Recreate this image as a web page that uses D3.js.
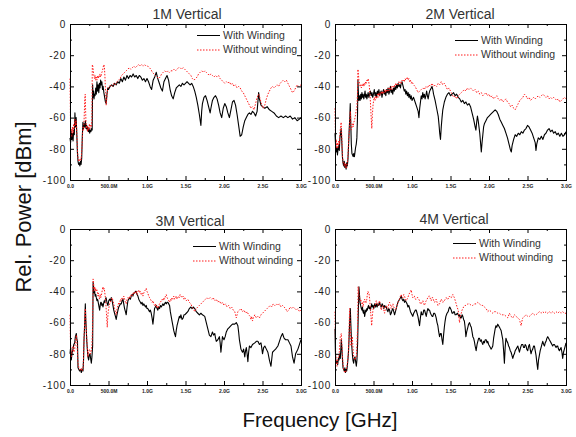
<!DOCTYPE html>
<html>
<head>
<meta charset="utf-8">
<script src="https://cdn.jsdelivr.net/npm/d3@7"></script>
<style>
  body { margin: 0; background: #fff; }
  svg { display: block; font-family: "Liberation Sans", Arial, sans-serif; }
</style>
</head>
<body>
<svg id="chart" width="576" height="437"></svg>
<script>
// axis ticks and labels
const freqTicks = [0, 0.5, 1, 1.5, 2, 2.5, 3];
const freqTickLabels = ['0.0', '500.0M', '1.0G', '1.5G', '2.0G', '2.5G', '3.0G'];
const freqMinorTicks = [0.25, 0.75, 1.25, 1.75, 2.25, 2.75];
const powerTicks = [0, -20, -40, -60, -80, -100];
const powerMinorTicks = [-10, -30, -50, -70, -90];
const titles = ['1M Vertical', '2M Vertical', '3M Vertical', '4M Vertical'];
const seriesNames = ['With Winding', 'Without winding'];

// [frequency GHz, relative power dBm]
const withWinding1M = [[0,-73],[0.008,-76],[0.016,-69],[0.024,-74],[0.032,-70],[0.04,-75],[0.048,-68],[0.056,-71],[0.064,-57],[0.072,-66],[0.08,-60],[0.088,-70],[0.096,-82],[0.104,-88],[0.112,-90],[0.12,-89],[0.128,-91],[0.136,-88],[0.144,-90],[0.152,-86],[0.16,-72],[0.168,-63],[0.176,-67],[0.184,-64],[0.192,-66],[0.2,-62],[0.208,-67],[0.216,-65],[0.224,-68],[0.232,-66],[0.24,-69],[0.248,-67],[0.256,-70],[0.264,-68],[0.272,-69],[0.28,-67],[0.288,-68],[0.294,-39],[0.3,-47],[0.306,-43],[0.312,-48],[0.318,-45],[0.326,-46],[0.334,-41],[0.342,-45],[0.35,-37],[0.358,-43],[0.366,-39],[0.374,-44],[0.382,-38],[0.39,-41],[0.398,-36],[0.406,-39],[0.414,-37],[0.422,-42],[0.43,-40],[0.44,-44],[0.45,-47],[0.46,-50],[0.47,-51],[0.48,-45],[0.49,-41],[0.5,-42],[0.52,-40],[0.54,-39],[0.56,-40],[0.58,-38],[0.6,-39],[0.62,-37],[0.64,-38],[0.66,-35],[0.68,-37],[0.7,-34],[0.72,-36],[0.74,-33],[0.76,-35],[0.78,-33],[0.8,-34],[0.82,-32],[0.84,-34],[0.86,-33],[0.88,-35],[0.9,-33],[0.92,-34],[0.94,-36],[0.96,-35],[0.98,-37],[1,-35],[1.02,-37],[1.04,-40],[1.06,-42],[1.08,-36],[1.1,-34],[1.12,-31],[1.14,-35],[1.16,-38],[1.18,-41],[1.2,-43],[1.22,-37],[1.24,-35],[1.26,-33],[1.28,-36],[1.3,-42],[1.32,-46],[1.34,-48],[1.36,-44],[1.38,-41],[1.4,-40],[1.42,-39],[1.44,-40],[1.46,-38],[1.48,-39],[1.5,-38],[1.52,-37],[1.54,-38],[1.56,-39],[1.58,-38],[1.6,-40],[1.62,-43],[1.64,-47],[1.66,-52],[1.68,-58],[1.7,-65],[1.71,-56],[1.72,-51],[1.74,-47],[1.76,-46],[1.78,-49],[1.8,-53],[1.82,-57],[1.83,-54],[1.85,-49],[1.87,-47],[1.89,-46],[1.91,-48],[1.93,-52],[1.95,-57],[1.97,-60],[1.99,-54],[2.01,-51],[2.03,-53],[2.05,-57],[2.07,-60],[2.09,-55],[2.11,-50],[2.13,-49],[2.15,-52],[2.17,-58],[2.19,-65],[2.21,-72],[2.23,-71],[2.25,-66],[2.27,-62],[2.29,-60],[2.31,-58],[2.33,-57],[2.35,-58],[2.37,-56],[2.39,-57],[2.41,-59],[2.43,-56],[2.44,-50],[2.45,-44],[2.46,-48],[2.48,-52],[2.5,-53],[2.53,-54],[2.56,-53],[2.59,-55],[2.62,-56],[2.65,-57],[2.68,-59],[2.71,-60],[2.74,-59],[2.77,-60],[2.8,-59],[2.83,-60],[2.86,-59],[2.89,-61],[2.92,-60],[2.95,-62],[2.98,-61],[3,-60]];

const withoutWinding1M = [[0,-35],[0.004,-52],[0.008,-70],[0.016,-67],[0.024,-72],[0.032,-66],[0.04,-70],[0.048,-64],[0.056,-67],[0.064,-61],[0.072,-65],[0.08,-62],[0.088,-69],[0.096,-80],[0.104,-86],[0.112,-88],[0.12,-87],[0.128,-88],[0.136,-86],[0.144,-87],[0.152,-82],[0.16,-74],[0.168,-66],[0.176,-68],[0.184,-60],[0.192,-48],[0.198,-45],[0.204,-58],[0.212,-67],[0.22,-65],[0.228,-69],[0.236,-66],[0.244,-68],[0.252,-64],[0.26,-67],[0.268,-65],[0.276,-66],[0.284,-62],[0.29,-26],[0.296,-27],[0.302,-30],[0.31,-33],[0.318,-35],[0.326,-33],[0.334,-36],[0.342,-34],[0.35,-36],[0.358,-33],[0.366,-35],[0.374,-33],[0.382,-34],[0.39,-32],[0.398,-34],[0.406,-33],[0.414,-31],[0.422,-30],[0.43,-28],[0.438,-26],[0.446,-27],[0.454,-34],[0.462,-44],[0.47,-52],[0.478,-47],[0.486,-43],[0.494,-41],[0.51,-40],[0.53,-39],[0.55,-40],[0.57,-38],[0.59,-39],[0.61,-37],[0.63,-36],[0.65,-35],[0.67,-33],[0.69,-32],[0.71,-31],[0.73,-30],[0.75,-29],[0.77,-28],[0.79,-29],[0.81,-28],[0.83,-27],[0.85,-28],[0.87,-27],[0.89,-26],[0.91,-27],[0.93,-26],[0.95,-27],[0.97,-26],[0.99,-27],[1.01,-27],[1.03,-28],[1.05,-29],[1.07,-31],[1.09,-32],[1.11,-33],[1.13,-34],[1.15,-35],[1.17,-34],[1.19,-32],[1.21,-31],[1.23,-30],[1.25,-31],[1.27,-30],[1.29,-31],[1.31,-30],[1.33,-30],[1.35,-29],[1.37,-30],[1.39,-29],[1.41,-28],[1.43,-28],[1.45,-29],[1.47,-28],[1.49,-29],[1.51,-30],[1.53,-31],[1.55,-32],[1.57,-33],[1.59,-35],[1.61,-36],[1.63,-35],[1.65,-34],[1.67,-32],[1.69,-31],[1.71,-30],[1.73,-31],[1.75,-30],[1.77,-31],[1.79,-32],[1.81,-33],[1.83,-32],[1.85,-33],[1.87,-34],[1.89,-33],[1.91,-34],[1.93,-33],[1.95,-35],[1.97,-36],[1.99,-37],[2.01,-38],[2.03,-37],[2.05,-38],[2.07,-37],[2.09,-39],[2.11,-38],[2.13,-40],[2.15,-39],[2.17,-41],[2.19,-40],[2.21,-41],[2.23,-43],[2.25,-44],[2.27,-46],[2.29,-48],[2.31,-50],[2.33,-52],[2.35,-54],[2.37,-53],[2.39,-55],[2.41,-51],[2.43,-47],[2.45,-45],[2.47,-48],[2.49,-52],[2.51,-54],[2.53,-52],[2.55,-48],[2.57,-45],[2.59,-43],[2.61,-41],[2.63,-40],[2.65,-41],[2.67,-40],[2.69,-39],[2.71,-40],[2.73,-38],[2.75,-37],[2.77,-36],[2.79,-37],[2.81,-36],[2.83,-38],[2.85,-40],[2.87,-42],[2.89,-44],[2.91,-43],[2.93,-41],[2.95,-39],[2.97,-40],[3,-39]];

const withWinding2M = [[0,-70],[0.008,-78],[0.016,-82],[0.024,-79],[0.032,-84],[0.04,-80],[0.048,-78],[0.056,-81],[0.064,-73],[0.072,-70],[0.08,-67],[0.088,-75],[0.096,-85],[0.104,-89],[0.112,-91],[0.12,-88],[0.128,-92],[0.136,-90],[0.144,-93],[0.152,-89],[0.16,-91],[0.168,-87],[0.176,-78],[0.184,-68],[0.192,-60],[0.198,-51],[0.204,-62],[0.212,-77],[0.22,-83],[0.228,-84],[0.236,-85],[0.244,-83],[0.252,-85],[0.26,-82],[0.268,-79],[0.276,-77],[0.284,-73],[0.292,-60],[0.298,-36],[0.304,-44],[0.31,-49],[0.318,-46],[0.326,-49],[0.334,-45],[0.342,-48],[0.35,-44],[0.358,-47],[0.366,-45],[0.374,-48],[0.382,-46],[0.39,-43],[0.398,-47],[0.406,-45],[0.414,-48],[0.422,-46],[0.43,-44],[0.44,-47],[0.45,-45],[0.46,-43],[0.47,-46],[0.48,-44],[0.49,-47],[0.5,-45],[0.51,-42],[0.52,-46],[0.53,-44],[0.54,-47],[0.55,-43],[0.56,-45],[0.57,-42],[0.58,-46],[0.59,-44],[0.6,-43],[0.61,-47],[0.62,-44],[0.63,-42],[0.64,-45],[0.65,-43],[0.66,-46],[0.67,-42],[0.68,-44],[0.69,-41],[0.7,-45],[0.71,-43],[0.72,-40],[0.73,-44],[0.74,-42],[0.75,-45],[0.76,-41],[0.77,-43],[0.78,-40],[0.79,-42],[0.8,-39],[0.81,-41],[0.82,-38],[0.83,-40],[0.84,-39],[0.85,-41],[0.86,-38],[0.87,-37],[0.88,-39],[0.89,-41],[0.9,-43],[0.91,-42],[0.92,-45],[0.93,-43],[0.94,-46],[0.95,-44],[0.96,-47],[0.97,-45],[0.98,-48],[0.99,-46],[1,-49],[1.02,-47],[1.04,-50],[1.06,-53],[1.08,-56],[1.09,-60],[1.1,-54],[1.11,-50],[1.12,-46],[1.13,-48],[1.14,-44],[1.15,-47],[1.16,-45],[1.17,-48],[1.18,-46],[1.19,-43],[1.2,-46],[1.21,-48],[1.22,-45],[1.23,-43],[1.24,-42],[1.25,-41],[1.26,-40],[1.27,-42],[1.28,-45],[1.3,-49],[1.32,-54],[1.34,-59],[1.35,-64],[1.36,-70],[1.37,-74],[1.38,-66],[1.39,-60],[1.4,-55],[1.42,-50],[1.44,-47],[1.46,-45],[1.48,-44],[1.5,-46],[1.52,-45],[1.54,-44],[1.56,-46],[1.58,-45],[1.6,-47],[1.62,-48],[1.64,-50],[1.66,-49],[1.68,-51],[1.7,-50],[1.72,-52],[1.74,-51],[1.76,-53],[1.78,-57],[1.8,-61],[1.82,-66],[1.83,-68],[1.84,-63],[1.85,-59],[1.86,-62],[1.87,-66],[1.88,-70],[1.89,-76],[1.9,-82],[1.91,-76],[1.92,-71],[1.93,-66],[1.94,-64],[1.96,-62],[1.98,-60],[2,-59],[2.02,-58],[2.04,-57],[2.06,-56],[2.08,-55],[2.1,-56],[2.12,-58],[2.14,-61],[2.16,-63],[2.18,-65],[2.2,-67],[2.22,-70],[2.24,-73],[2.26,-77],[2.28,-81],[2.29,-82],[2.3,-78],[2.32,-74],[2.34,-71],[2.36,-72],[2.38,-70],[2.4,-71],[2.42,-69],[2.44,-70],[2.46,-68],[2.48,-67],[2.5,-65],[2.52,-66],[2.54,-68],[2.56,-70],[2.58,-73],[2.6,-76],[2.61,-81],[2.62,-77],[2.64,-73],[2.66,-74],[2.68,-72],[2.7,-74],[2.72,-71],[2.74,-70],[2.76,-68],[2.78,-67],[2.8,-69],[2.82,-68],[2.84,-70],[2.86,-69],[2.88,-71],[2.9,-70],[2.92,-72],[2.94,-70],[2.96,-72],[2.98,-71],[3,-69]];

const withoutWinding2M = [[0,-54],[0.008,-78],[0.016,-74],[0.024,-80],[0.032,-76],[0.04,-79],[0.048,-75],[0.056,-77],[0.064,-70],[0.072,-66],[0.08,-63],[0.088,-72],[0.096,-84],[0.104,-88],[0.112,-90],[0.12,-91],[0.128,-89],[0.136,-92],[0.144,-90],[0.152,-92],[0.16,-89],[0.168,-85],[0.176,-76],[0.184,-70],[0.192,-62],[0.198,-56],[0.204,-62],[0.212,-68],[0.22,-66],[0.228,-64],[0.236,-66],[0.244,-63],[0.252,-62],[0.26,-60],[0.268,-58],[0.276,-55],[0.284,-53],[0.292,-45],[0.298,-29],[0.304,-32],[0.31,-36],[0.318,-38],[0.326,-40],[0.334,-39],[0.342,-41],[0.35,-39],[0.358,-40],[0.366,-38],[0.374,-40],[0.382,-38],[0.39,-39],[0.398,-37],[0.406,-38],[0.414,-36],[0.422,-37],[0.43,-35],[0.438,-37],[0.446,-40],[0.454,-45],[0.462,-52],[0.47,-60],[0.478,-67],[0.486,-58],[0.494,-52],[0.502,-49],[0.51,-47],[0.52,-49],[0.53,-46],[0.54,-48],[0.55,-45],[0.56,-47],[0.57,-44],[0.58,-46],[0.59,-44],[0.6,-45],[0.61,-43],[0.62,-45],[0.63,-43],[0.64,-44],[0.65,-42],[0.66,-44],[0.67,-42],[0.68,-43],[0.69,-41],[0.7,-43],[0.71,-41],[0.72,-42],[0.73,-40],[0.74,-42],[0.75,-40],[0.76,-41],[0.77,-39],[0.78,-40],[0.79,-38],[0.8,-39],[0.81,-38],[0.82,-39],[0.83,-37],[0.84,-38],[0.85,-37],[0.86,-38],[0.87,-36],[0.88,-37],[0.89,-36],[0.9,-37],[0.91,-35],[0.92,-36],[0.93,-35],[0.94,-34],[0.95,-36],[0.96,-35],[0.97,-37],[0.98,-36],[0.99,-38],[1,-37],[1.02,-39],[1.04,-40],[1.06,-42],[1.08,-44],[1.1,-43],[1.12,-42],[1.14,-41],[1.16,-42],[1.18,-40],[1.2,-41],[1.22,-39],[1.24,-40],[1.26,-38],[1.28,-40],[1.3,-39],[1.32,-40],[1.34,-38],[1.36,-39],[1.38,-37],[1.4,-39],[1.42,-38],[1.44,-40],[1.46,-42],[1.48,-41],[1.5,-43],[1.52,-45],[1.54,-47],[1.56,-46],[1.58,-48],[1.6,-46],[1.62,-45],[1.64,-44],[1.66,-43],[1.68,-42],[1.7,-43],[1.72,-41],[1.74,-42],[1.76,-41],[1.78,-42],[1.8,-43],[1.82,-42],[1.84,-44],[1.86,-43],[1.88,-45],[1.9,-44],[1.92,-46],[1.94,-45],[1.96,-44],[1.98,-46],[2,-45],[2.02,-47],[2.04,-46],[2.06,-48],[2.08,-47],[2.1,-46],[2.12,-48],[2.14,-49],[2.16,-48],[2.18,-50],[2.2,-49],[2.22,-48],[2.24,-50],[2.26,-51],[2.28,-53],[2.3,-52],[2.32,-54],[2.34,-55],[2.36,-53],[2.38,-51],[2.4,-49],[2.42,-48],[2.44,-47],[2.46,-45],[2.48,-46],[2.5,-48],[2.52,-47],[2.54,-49],[2.56,-48],[2.58,-47],[2.6,-48],[2.62,-47],[2.64,-46],[2.66,-47],[2.68,-46],[2.7,-45],[2.72,-46],[2.74,-47],[2.76,-46],[2.78,-48],[2.8,-47],[2.82,-48],[2.84,-47],[2.86,-48],[2.88,-49],[2.9,-48],[2.92,-50],[2.94,-49],[2.96,-48],[2.98,-47],[3,-48]];

const withWinding3M = [[0,-80],[0.008,-76],[0.017,-84],[0.028,-79],[0.039,-77],[0.05,-74],[0.061,-73],[0.07,-69],[0.082,-67],[0.09,-71],[0.097,-72],[0.104,-89],[0.115,-90],[0.125,-91],[0.136,-90],[0.147,-92],[0.158,-90],[0.169,-91],[0.176,-84],[0.182,-71],[0.19,-62],[0.199,-48],[0.205,-58],[0.212,-65],[0.218,-72],[0.225,-77],[0.233,-82],[0.242,-84],[0.25,-81],[0.26,-80],[0.268,-83],[0.277,-86],[0.285,-82],[0.294,-75],[0.3,-34],[0.306,-37],[0.313,-41],[0.32,-40],[0.327,-43],[0.335,-42],[0.342,-44],[0.35,-46],[0.357,-45],[0.363,-46],[0.37,-48],[0.377,-50],[0.385,-52],[0.392,-49],[0.399,-47],[0.406,-47],[0.413,-49],[0.42,-48],[0.428,-50],[0.436,-48],[0.444,-46],[0.452,-47],[0.46,-45],[0.468,-44],[0.476,-46],[0.484,-48],[0.493,-49],[0.503,-46],[0.514,-45],[0.525,-46],[0.536,-44],[0.547,-46],[0.558,-49],[0.568,-52],[0.579,-54],[0.59,-56],[0.6,-58],[0.61,-55],[0.623,-52],[0.633,-50],[0.644,-49],[0.655,-48],[0.666,-48],[0.677,-46],[0.688,-45],[0.698,-48],[0.709,-51],[0.72,-53],[0.73,-55],[0.741,-50],[0.752,-46],[0.763,-45],[0.774,-44],[0.785,-45],[0.795,-43],[0.806,-42],[0.817,-43],[0.828,-41],[0.839,-41],[0.85,-40],[0.86,-40],[0.871,-42],[0.882,-43],[0.893,-45],[0.903,-46],[0.914,-47],[0.925,-48],[0.936,-47],[0.947,-49],[0.958,-48],[0.97,-49],[0.98,-50],[0.99,-49],[1,-51],[1.01,-51],[1.022,-52],[1.033,-53],[1.044,-52],[1.055,-54],[1.066,-57],[1.077,-61],[1.088,-56],[1.098,-51],[1.109,-50],[1.12,-49],[1.13,-51],[1.141,-52],[1.152,-50],[1.163,-51],[1.174,-49],[1.185,-50],[1.196,-49],[1.207,-48],[1.218,-49],[1.228,-48],[1.24,-47],[1.25,-48],[1.261,-47],[1.271,-47],[1.282,-48],[1.293,-49],[1.303,-53],[1.314,-56],[1.325,-59],[1.336,-62],[1.347,-65],[1.358,-67],[1.37,-69],[1.38,-65],[1.39,-62],[1.4,-60],[1.41,-58],[1.42,-56],[1.43,-57],[1.44,-55],[1.455,-58],[1.47,-57],[1.48,-55],[1.49,-55],[1.51,-54],[1.53,-53],[1.55,-51],[1.57,-50],[1.585,-51],[1.6,-50],[1.62,-51],[1.64,-53],[1.66,-54],[1.68,-55],[1.7,-54],[1.72,-55],[1.75,-56],[1.77,-60],[1.79,-64],[1.81,-68],[1.83,-69],[1.85,-66],[1.865,-68],[1.88,-67],[1.89,-70],[1.9,-72],[1.92,-71],[1.94,-69],[1.95,-73],[1.96,-79],[1.97,-74],[1.98,-69],[2,-71],[2.015,-69],[2.03,-66],[2.05,-64],[2.07,-63],[2.09,-62],[2.11,-61],[2.14,-61],[2.16,-60],[2.18,-62],[2.19,-66],[2.2,-71],[2.21,-74],[2.22,-77],[2.24,-79],[2.255,-77],[2.27,-82],[2.28,-78],[2.29,-76],[2.3,-80],[2.31,-85],[2.32,-79],[2.33,-75],[2.35,-76],[2.37,-74],[2.4,-73],[2.42,-72],[2.44,-72],[2.46,-74],[2.48,-73],[2.49,-76],[2.5,-80],[2.515,-76],[2.53,-75],[2.55,-77],[2.57,-79],[2.59,-84],[2.61,-88],[2.63,-79],[2.65,-78],[2.67,-77],[2.7,-75],[2.72,-72],[2.74,-69],[2.76,-67],[2.78,-70],[2.8,-71],[2.83,-71],[2.85,-73],[2.87,-75],[2.89,-82],[2.91,-86],[2.93,-80],[2.94,-79],[2.96,-77],[2.98,-74],[3,-71]];

const withoutWinding3M = [[0,-55],[0.005,-70],[0.009,-75],[0.017,-82],[0.028,-78],[0.039,-75],[0.05,-79],[0.061,-77],[0.07,-72],[0.082,-68],[0.092,-74],[0.104,-86],[0.115,-89],[0.125,-90],[0.136,-91],[0.147,-89],[0.158,-91],[0.169,-90],[0.176,-82],[0.182,-71],[0.19,-60],[0.199,-51],[0.207,-60],[0.216,-69],[0.225,-76],[0.233,-82],[0.244,-78],[0.255,-77],[0.266,-80],[0.277,-78],[0.285,-74],[0.294,-62],[0.3,-32],[0.307,-35],[0.313,-39],[0.32,-37],[0.327,-40],[0.334,-38],[0.342,-40],[0.35,-39],[0.357,-41],[0.363,-43],[0.37,-41],[0.377,-44],[0.385,-45],[0.392,-42],[0.399,-44],[0.406,-43],[0.413,-41],[0.42,-39],[0.428,-37],[0.436,-39],[0.444,-38],[0.452,-41],[0.46,-44],[0.466,-48],[0.472,-53],[0.478,-58],[0.484,-63],[0.49,-57],[0.496,-53],[0.503,-51],[0.514,-48],[0.525,-47],[0.536,-45],[0.547,-44],[0.558,-46],[0.568,-48],[0.579,-51],[0.59,-53],[0.6,-55],[0.612,-51],[0.623,-49],[0.634,-47],[0.645,-48],[0.655,-45],[0.666,-46],[0.677,-44],[0.688,-45],[0.698,-43],[0.709,-45],[0.72,-47],[0.73,-48],[0.741,-45],[0.752,-44],[0.763,-45],[0.774,-43],[0.785,-44],[0.795,-42],[0.806,-43],[0.817,-41],[0.828,-42],[0.839,-40],[0.85,-41],[0.86,-40],[0.871,-42],[0.882,-40],[0.893,-39],[0.903,-41],[0.914,-40],[0.925,-42],[0.936,-41],[0.947,-43],[0.958,-41],[0.968,-40],[0.979,-39],[0.99,-38],[1,-40],[1.01,-41],[1.022,-43],[1.033,-44],[1.044,-45],[1.055,-46],[1.066,-47],[1.077,-46],[1.088,-48],[1.098,-49],[1.109,-48],[1.12,-50],[1.13,-49],[1.141,-51],[1.152,-49],[1.163,-48],[1.174,-47],[1.185,-46],[1.196,-45],[1.207,-46],[1.218,-44],[1.228,-45],[1.24,-43],[1.25,-42],[1.261,-44],[1.271,-45],[1.282,-46],[1.293,-47],[1.303,-45],[1.314,-46],[1.325,-44],[1.336,-45],[1.347,-43],[1.358,-45],[1.37,-44],[1.38,-43],[1.39,-45],[1.4,-44],[1.41,-43],[1.42,-44],[1.43,-42],[1.44,-43],[1.455,-44],[1.47,-43],[1.48,-45],[1.49,-44],[1.51,-46],[1.53,-45],[1.55,-47],[1.57,-48],[1.585,-50],[1.6,-51],[1.62,-53],[1.64,-51],[1.66,-50],[1.68,-49],[1.7,-48],[1.72,-47],[1.74,-46],[1.76,-45],[1.78,-44],[1.8,-45],[1.82,-44],[1.84,-45],[1.86,-44],[1.88,-46],[1.9,-45],[1.92,-47],[1.94,-46],[1.96,-48],[1.98,-47],[2,-49],[2.02,-48],[2.04,-50],[2.06,-49],[2.08,-51],[2.1,-50],[2.12,-52],[2.14,-53],[2.15,-55],[2.16,-57],[2.17,-55],[2.18,-53],[2.2,-52],[2.22,-51],[2.24,-53],[2.26,-52],[2.28,-54],[2.3,-53],[2.32,-55],[2.34,-56],[2.35,-58],[2.36,-56],[2.37,-59],[2.38,-57],[2.4,-55],[2.42,-57],[2.44,-56],[2.46,-57],[2.48,-55],[2.5,-54],[2.52,-53],[2.54,-52],[2.56,-51],[2.58,-50],[2.6,-49],[2.62,-50],[2.64,-48],[2.66,-49],[2.68,-48],[2.7,-49],[2.72,-48],[2.74,-50],[2.76,-49],[2.78,-50],[2.8,-51],[2.82,-53],[2.84,-52],[2.86,-50],[2.88,-51],[2.9,-50],[2.92,-51],[2.94,-52],[2.96,-51],[2.98,-53],[3,-52]];

const withWinding4M = [[0,-64],[0.005,-78],[0.009,-84],[0.018,-86],[0.026,-85],[0.035,-87],[0.044,-83],[0.052,-84],[0.06,-80],[0.069,-83],[0.076,-77],[0.082,-71],[0.089,-76],[0.095,-82],[0.104,-89],[0.112,-90],[0.12,-91],[0.128,-89],[0.136,-92],[0.144,-90],[0.152,-91],[0.16,-88],[0.169,-83],[0.176,-78],[0.182,-71],[0.19,-60],[0.199,-51],[0.205,-60],[0.212,-69],[0.218,-75],[0.225,-80],[0.233,-84],[0.242,-86],[0.25,-83],[0.26,-82],[0.268,-85],[0.277,-88],[0.285,-84],[0.294,-73],[0.302,-55],[0.311,-37],[0.318,-42],[0.325,-47],[0.333,-49],[0.342,-51],[0.35,-52],[0.357,-50],[0.363,-53],[0.37,-54],[0.377,-52],[0.385,-56],[0.392,-54],[0.399,-52],[0.406,-53],[0.413,-51],[0.42,-52],[0.428,-50],[0.436,-49],[0.444,-51],[0.452,-50],[0.46,-52],[0.468,-50],[0.476,-48],[0.484,-50],[0.493,-49],[0.503,-51],[0.514,-48],[0.525,-50],[0.536,-48],[0.547,-50],[0.558,-48],[0.568,-49],[0.579,-47],[0.59,-49],[0.6,-50],[0.612,-48],[0.623,-49],[0.634,-51],[0.645,-49],[0.655,-50],[0.666,-50],[0.677,-52],[0.688,-53],[0.698,-51],[0.709,-52],[0.72,-55],[0.73,-54],[0.741,-52],[0.752,-51],[0.763,-53],[0.774,-55],[0.785,-53],[0.795,-51],[0.806,-49],[0.817,-47],[0.828,-46],[0.839,-45],[0.85,-44],[0.86,-43],[0.871,-45],[0.882,-46],[0.893,-45],[0.903,-47],[0.914,-46],[0.925,-47],[0.936,-48],[0.947,-50],[0.958,-49],[0.97,-51],[0.98,-53],[0.99,-54],[1,-55],[1.01,-56],[1.022,-54],[1.033,-53],[1.044,-52],[1.055,-52],[1.066,-54],[1.077,-56],[1.088,-59],[1.098,-62],[1.109,-57],[1.12,-53],[1.13,-55],[1.141,-55],[1.152,-52],[1.163,-52],[1.174,-54],[1.185,-56],[1.196,-53],[1.206,-51],[1.218,-52],[1.228,-52],[1.24,-54],[1.25,-55],[1.261,-56],[1.271,-56],[1.282,-54],[1.293,-54],[1.303,-55],[1.314,-57],[1.325,-60],[1.336,-62],[1.347,-66],[1.358,-69],[1.37,-67],[1.38,-67],[1.39,-71],[1.4,-74],[1.41,-68],[1.42,-63],[1.43,-59],[1.44,-56],[1.455,-54],[1.47,-53],[1.48,-51],[1.49,-50],[1.5,-51],[1.51,-52],[1.52,-54],[1.53,-54],[1.54,-53],[1.55,-53],[1.56,-55],[1.57,-55],[1.59,-54],[1.61,-56],[1.62,-55],[1.63,-57],[1.64,-57],[1.65,-55],[1.66,-56],[1.67,-58],[1.68,-59],[1.69,-63],[1.7,-69],[1.71,-66],[1.725,-63],[1.735,-61],[1.747,-60],[1.76,-62],[1.77,-63],[1.78,-66],[1.79,-69],[1.8,-70],[1.81,-72],[1.82,-75],[1.833,-78],[1.845,-74],[1.855,-72],[1.866,-70],[1.876,-70],[1.888,-72],[1.9,-71],[1.91,-73],[1.92,-74],[1.93,-72],[1.94,-73],[1.95,-71],[1.963,-71],[1.975,-73],[1.984,-72],[1.995,-74],[2.006,-75],[2.017,-76],[2.028,-77],[2.04,-76],[2.049,-75],[2.06,-70],[2.07,-67],[2.08,-64],[2.09,-62],[2.1,-63],[2.114,-61],[2.125,-62],[2.136,-63],[2.146,-64],[2.157,-65],[2.168,-68],[2.179,-71],[2.19,-78],[2.2,-86],[2.21,-76],[2.22,-70],[2.233,-72],[2.244,-73],[2.255,-75],[2.265,-76],[2.276,-78],[2.287,-79],[2.298,-81],[2.309,-83],[2.32,-81],[2.33,-80],[2.34,-78],[2.352,-77],[2.363,-76],[2.374,-75],[2.385,-77],[2.395,-79],[2.41,-76],[2.424,-74],[2.438,-74],[2.45,-76],[2.46,-76],[2.47,-74],[2.482,-75],[2.49,-77],[2.503,-78],[2.515,-75],[2.525,-74],[2.535,-77],[2.546,-80],[2.557,-78],[2.568,-77],[2.58,-75],[2.59,-75],[2.6,-78],[2.611,-81],[2.62,-85],[2.633,-90],[2.643,-84],[2.654,-81],[2.665,-78],[2.676,-76],[2.687,-74],[2.698,-72],[2.71,-74],[2.72,-75],[2.73,-73],[2.741,-72],[2.752,-70],[2.763,-69],[2.774,-70],[2.784,-71],[2.795,-72],[2.806,-73],[2.817,-74],[2.827,-75],[2.838,-74],[2.849,-74],[2.86,-75],[2.871,-76],[2.882,-75],[2.892,-75],[2.903,-77],[2.914,-78],[2.925,-77],[2.936,-76],[2.947,-79],[2.957,-83],[2.968,-79],[2.979,-77],[2.99,-75],[3,-73]];

const withoutWinding4M = [[0,-53],[0.005,-70],[0.009,-80],[0.018,-86],[0.026,-88],[0.035,-84],[0.044,-82],[0.052,-82],[0.06,-75],[0.069,-69],[0.076,-68],[0.082,-67],[0.089,-74],[0.095,-80],[0.104,-86],[0.112,-90],[0.12,-91],[0.128,-92],[0.138,-92],[0.147,-90],[0.156,-88],[0.165,-84],[0.173,-80],[0.182,-66],[0.19,-51],[0.199,-63],[0.208,-75],[0.216,-72],[0.225,-69],[0.233,-76],[0.242,-82],[0.25,-83],[0.26,-84],[0.268,-82],[0.277,-82],[0.285,-74],[0.294,-62],[0.3,-37],[0.306,-40],[0.313,-43],[0.32,-44],[0.327,-46],[0.334,-45],[0.342,-47],[0.35,-48],[0.357,-47],[0.363,-50],[0.37,-48],[0.377,-46],[0.385,-45],[0.392,-47],[0.399,-46],[0.406,-47],[0.413,-45],[0.42,-42],[0.428,-40],[0.436,-41],[0.441,-41],[0.45,-45],[0.458,-50],[0.466,-55],[0.476,-62],[0.485,-56],[0.493,-52],[0.503,-50],[0.514,-50],[0.525,-48],[0.536,-46],[0.547,-48],[0.558,-49],[0.568,-47],[0.579,-46],[0.59,-49],[0.6,-52],[0.612,-50],[0.623,-49],[0.634,-52],[0.644,-54],[0.655,-51],[0.666,-49],[0.677,-50],[0.688,-51],[0.698,-48],[0.709,-47],[0.72,-49],[0.73,-51],[0.741,-49],[0.752,-48],[0.763,-50],[0.774,-51],[0.785,-52],[0.795,-51],[0.806,-49],[0.817,-47],[0.828,-46],[0.839,-45],[0.85,-43],[0.86,-42],[0.871,-44],[0.882,-44],[0.893,-42],[0.903,-43],[0.914,-45],[0.925,-46],[0.936,-45],[0.947,-44],[0.958,-42],[0.97,-41],[0.98,-40],[0.99,-39],[1,-42],[1.01,-44],[1.02,-43],[1.03,-43],[1.044,-45],[1.055,-45],[1.066,-44],[1.077,-44],[1.088,-45],[1.098,-46],[1.109,-48],[1.12,-48],[1.13,-47],[1.141,-46],[1.152,-48],[1.163,-49],[1.174,-47],[1.185,-46],[1.196,-45],[1.206,-44],[1.218,-43],[1.228,-43],[1.24,-45],[1.25,-46],[1.261,-44],[1.271,-44],[1.282,-46],[1.293,-47],[1.303,-46],[1.314,-45],[1.325,-47],[1.336,-49],[1.347,-48],[1.358,-48],[1.37,-46],[1.38,-45],[1.39,-46],[1.4,-47],[1.41,-46],[1.42,-46],[1.432,-45],[1.444,-44],[1.455,-45],[1.466,-45],[1.476,-44],[1.487,-43],[1.498,-44],[1.51,-44],[1.52,-43],[1.53,-42],[1.54,-43],[1.55,-44],[1.562,-46],[1.574,-48],[1.585,-50],[1.6,-52],[1.608,-56],[1.617,-60],[1.628,-56],[1.64,-54],[1.65,-52],[1.66,-51],[1.67,-50],[1.68,-50],[1.69,-49],[1.703,-49],[1.725,-48],[1.747,-48],[1.77,-49],[1.79,-49],[1.81,-48],[1.833,-48],[1.855,-47],[1.876,-48],[1.9,-49],[1.92,-49],[1.94,-50],[1.963,-51],[1.984,-53],[2.006,-52],[2.028,-53],[2.049,-54],[2.07,-53],[2.092,-53],[2.114,-54],[2.136,-54],[2.157,-55],[2.179,-55],[2.2,-55],[2.222,-56],[2.244,-57],[2.265,-54],[2.287,-56],[2.309,-57],[2.33,-55],[2.352,-56],[2.374,-57],[2.395,-58],[2.406,-60],[2.417,-62],[2.428,-59],[2.438,-57],[2.46,-56],[2.482,-55],[2.503,-56],[2.525,-56],[2.546,-55],[2.568,-54],[2.59,-55],[2.611,-55],[2.632,-54],[2.654,-53],[2.676,-54],[2.698,-53],[2.72,-54],[2.741,-53],[2.763,-54],[2.784,-53],[2.806,-54],[2.827,-53],[2.849,-54],[2.871,-53],[2.892,-54],[2.914,-53],[2.936,-54],[2.957,-53],[2.979,-54],[3,-54]];

// panel placement
const W = 231, H = 156;
const panels = [
  { title: titles[0], left: 70, top: 24, series: [withWinding1M, withoutWinding1M], titleX: 187, titleDy: -5, legX: 127, legY: 11 },
  { title: titles[1], left: 335, top: 24, series: [withWinding2M, withoutWinding2M], titleX: 460, titleDy: -5, legX: 120, legY: 16 },
  { title: titles[2], left: 70, top: 229, series: [withWinding3M, withoutWinding3M], titleX: 190, titleDy: -3, legX: 123, legY: 17 },
  { title: titles[3], left: 335, top: 229, series: [withWinding4M, withoutWinding4M], titleX: 454, titleDy: -5, legX: 118, legY: 14 }
];
const lineStyles = [
  { stroke: '#000', dash: null, width: 1.1 },
  { stroke: '#ff1a1a', dash: '1.5,1.5', width: 1 }
];

const svg = d3.select('#chart');
const x = d3.scaleLinear().domain([0, 3]).range([0, W]);
const y = d3.scaleLinear().domain([-100, 0]).range([H, 0]);
const line = d3.line().x(d => x(d[0])).y(d => y(d[1]));

function styleAxis(g) {
  g.select('.domain').remove();
  g.selectAll('.tick line').attr('stroke', '#000');
  g.selectAll('text').attr('fill', '#222');
}

panels.forEach(p => {
  const g = svg.append('g').attr('transform', `translate(${p.left},${p.top})`);

  // series
  p.series.forEach((data, i) => {
    g.append('path')
      .datum(data)
      .attr('d', line)
      .attr('fill', 'none')
      .attr('stroke', lineStyles[i].stroke)
      .attr('stroke-width', lineStyles[i].width)
      .attr('stroke-dasharray', lineStyles[i].dash)
      .attr('stroke-linejoin', 'round');
  });

  // left axis with labels
  g.append('g')
    .call(d3.axisLeft(y).tickValues(powerTicks).tickSize(-4).tickPadding(4).tickFormat(d => String(d)))
    .call(styleAxis)
    .selectAll('text')
    .attr('font-size', 10)
    .attr('letter-spacing', 0.8)
    .attr('font-family', '"Liberation Sans", Arial, sans-serif');
  g.append('g')
    .call(d3.axisLeft(y).tickValues(powerMinorTicks).tickSize(-2).tickFormat(''))
    .call(styleAxis);
  // right mirror
  g.append('g').attr('transform', `translate(${W},0)`)
    .call(d3.axisRight(y).tickValues(powerTicks).tickSize(-4).tickFormat(''))
    .call(styleAxis);
  g.append('g').attr('transform', `translate(${W},0)`)
    .call(d3.axisRight(y).tickValues(powerMinorTicks).tickSize(-2).tickFormat(''))
    .call(styleAxis);

  // bottom axis with labels
  g.append('g').attr('transform', `translate(0,${H})`)
    .call(d3.axisBottom(x).tickValues(freqTicks).tickSize(-4).tickPadding(4).tickFormat((d, i) => freqTickLabels[i]))
    .call(styleAxis)
    .selectAll('text')
    .attr('font-size', 5)
    .attr('font-weight', 'bold')
    .attr('font-family', '"Liberation Sans", Arial, sans-serif');
  g.append('g').attr('transform', `translate(0,${H})`)
    .call(d3.axisBottom(x).tickValues(freqMinorTicks).tickSize(-2).tickFormat(''))
    .call(styleAxis);
  // top mirror
  g.append('g')
    .call(d3.axisTop(x).tickValues(freqTicks).tickSize(-4).tickFormat(''))
    .call(styleAxis);
  g.append('g')
    .call(d3.axisTop(x).tickValues(freqMinorTicks).tickSize(-2).tickFormat(''))
    .call(styleAxis);

  // frame
  g.append('rect')
    .attr('x', 0.5).attr('y', 0.5)
    .attr('width', W).attr('height', H)
    .attr('fill', 'none').attr('stroke', '#000').attr('stroke-width', 1);

  // title
  svg.append('text')
    .attr('x', p.titleX)
    .attr('y', p.top + p.titleDy)
    .attr('text-anchor', 'middle')
    .attr('font-size', 14)
    .attr('fill', '#333')
    .text(p.title);

  // legend
  const leg = g.append('g').attr('transform', `translate(${p.legX},${p.legY})`);
  seriesNames.forEach((name, i) => {
    const row = leg.append('g').attr('transform', `translate(0,${i * 14.5})`);
    row.append('line')
      .attr('x1', 0).attr('x2', 23)
      .attr('y1', 0.5).attr('y2', 0.5)
      .attr('stroke', lineStyles[i].stroke)
      .attr('stroke-width', 1)
      .attr('stroke-dasharray', lineStyles[i].dash);
    row.append('text')
      .attr('x', 26)
      .attr('y', 0)
      .attr('dy', '0.36em')
      .attr('font-size', 10.5)
      .attr('fill', '#333')
      .text(name);
  });
});

// shared axis titles
svg.append('text')
  .attr('transform', 'translate(31,207) rotate(-90)')
  .attr('text-anchor', 'middle')
  .attr('font-size', 22)
  .attr('fill', '#111')
  .text('Rel. Power [dBm]');

svg.append('text')
  .attr('x', 320)
  .attr('y', 427)
  .attr('text-anchor', 'middle')
  .attr('font-size', 20.5)
  .attr('fill', '#111')
  .text('Frequency [GHz]');
</script>
</body>
</html>
